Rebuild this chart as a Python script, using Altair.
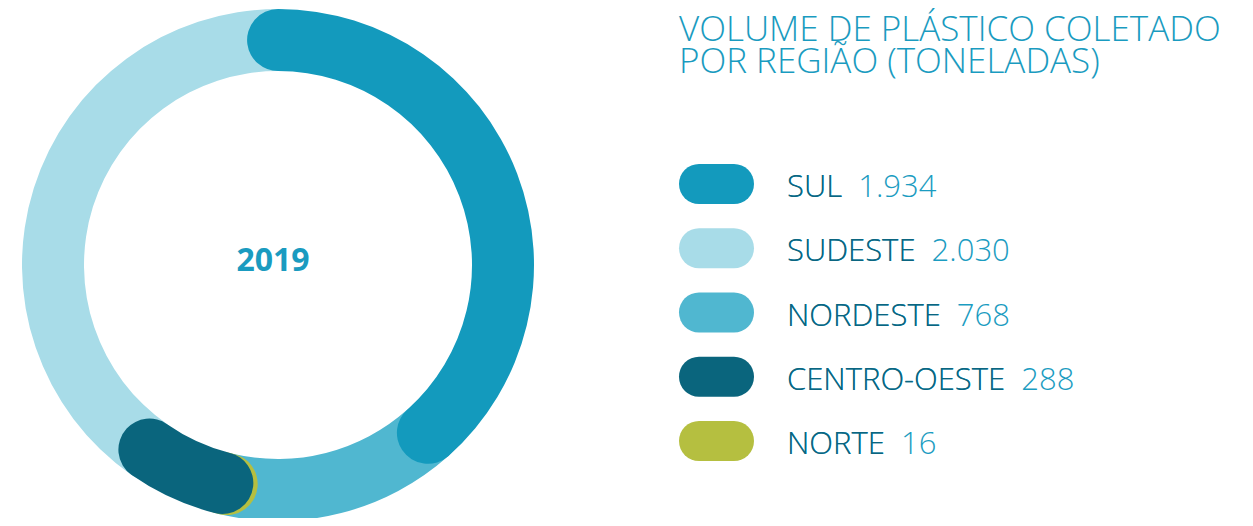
import math
import altair as alt
import pandas as pd

# ---- data ----
regions = ["SUL", "SUDESTE", "NORDESTE", "CENTRO-OESTE", "NORTE"]  # legend order
values = [1934, 2030, 768, 288, 16]
colors = ["#139ABD", "#A8DCE8", "#50B7D0", "#0A657D", "#B5BF40"]
ring_order = ["SUL", "NORDESTE", "NORTE", "CENTRO-OESTE", "SUDESTE"]  # clockwise from top
draw_order = ["SUDESTE", "NORDESTE", "NORTE", "CENTRO-OESTE", "SUL"]  # z-order
year_label = "2019"
title_lines = ["VOLUME DE PLÁSTICO COLETADO", "POR REGIÃO (TONELADAS)"]

# ---- layout / style ----
W, H = 1237, 510
CX, CY = 270, 257
R_OUT, R_IN = 256, 194
R_MID = (R_OUT + R_IN) / 2
CAP = (R_OUT - R_IN) / 2
FONT = "Open Sans"
NAME_COLOR = "#0B6580"
VALUE_COLOR = "#1B9CC1"
TITLE_COLOR = "#1A9BC0"

total = sum(values)
val_of = dict(zip(regions, values))
cap_units = total * (CAP / R_MID) / (2 * math.pi)

rows = []
acc = 0
for r in ring_order:
    v = val_of[r]
    rows.append({"region": r, "value": v, "t0": acc - cap_units, "t1": acc + v + cap_units})
    acc += v
ring = pd.DataFrame(rows).set_index("region").loc[draw_order].reset_index()

color_scale = alt.Scale(domain=regions, range=colors)

arcs = alt.Chart(ring).mark_arc(
    outerRadius=R_OUT, innerRadius=R_IN, cornerRadius=CAP
).encode(
    theta=alt.Theta("t0:Q", stack=None,
                    scale=alt.Scale(domain=[0, total], range=[0, 2 * math.pi])),
    theta2="t1:Q",
    color=alt.Color("region:N", scale=color_scale, legend=None),
    x=alt.value(CX),
    y=alt.value(CY),
)

year = alt.Chart(pd.DataFrame({"t": [year_label]})).mark_text(
    font=FONT, fontSize=32, fontWeight="bold", color=TITLE_COLOR,
    align="center", baseline="alphabetic"
).encode(text="t:N", x=alt.value(265), y=alt.value(263))

title = alt.Chart(pd.DataFrame({"t": [0]})).mark_text(
    font=FONT, fontSize=35, fontWeight=300, color=TITLE_COLOR,
    align="left", baseline="alphabetic", lineHeight=32
).encode(text=alt.value(title_lines), x=alt.value(671), y=alt.value(33))

def fmt(v):
    return f"{v:,}".replace(",", ".")

leg = pd.DataFrame({
    "region": regions,
    "i": list(range(len(regions))),
    "full": [f"{r}\u00a0\u00a0{fmt(v)}" for r, v in zip(regions, values)],
})
yscale = alt.Scale(domain=[0, len(regions) - 1], range=[176, 433])

pills = alt.Chart(leg).mark_rule(strokeWidth=40, strokeCap="round").encode(
    x=alt.value(691), x2=alt.value(726),
    y=alt.Y("i:Q", scale=yscale, axis=None),
    color=alt.Color("region:N", scale=color_scale, legend=None),
)

full_txt = alt.Chart(leg).mark_text(
    font=FONT, fontSize=31, fontWeight=300, color=VALUE_COLOR,
    align="left", baseline="alphabetic", dy=13
).encode(text="full:N", x=alt.value(779), y=alt.Y("i:Q", scale=yscale, axis=None))

name_txt = alt.Chart(leg).mark_text(
    font=FONT, fontSize=31, fontWeight=300, color=NAME_COLOR,
    align="left", baseline="alphabetic", dy=13
).encode(text="region:N", x=alt.value(779), y=alt.Y("i:Q", scale=yscale, axis=None))

chart = alt.layer(arcs, year, title, pills, full_txt, name_txt).properties(
    width=W, height=H, padding=0, autosize="none"
).configure_view(stroke=None)

chart.save("out.html", embed_options={"renderer": "svg", "actions": False})
